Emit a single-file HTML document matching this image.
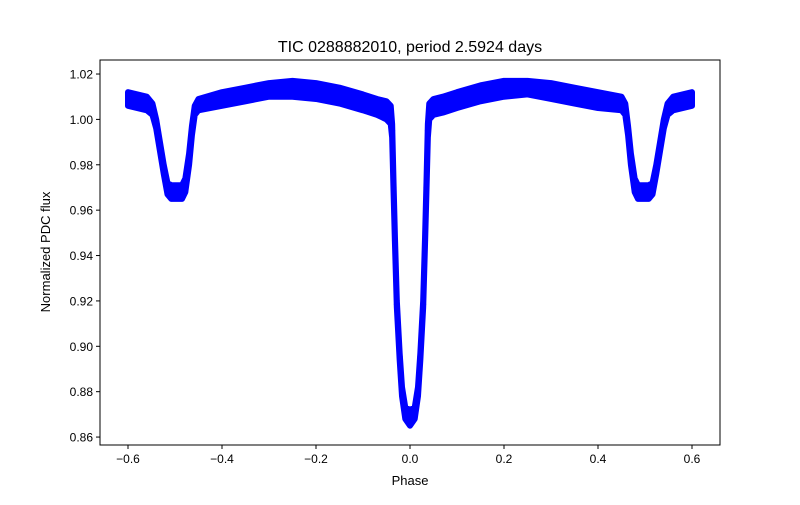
<!DOCTYPE html>
<html><head><meta charset="utf-8"><style>
body{margin:0;background:#fff}
svg{font-family:"Liberation Sans","DejaVu Sans",sans-serif}
</style></head><body>
<svg id="chart" width="800" height="500">
<rect width="800" height="500" fill="#fff"/>
<text x="410" y="52" font-size="16" text-anchor="middle">TIC 0288882010, period 2.5924 days</text>
<g id="plot"></g>
<g id="axes"></g>
<text x="410" y="485" font-size="13" text-anchor="middle">Phase</text>
<text transform="translate(50,252) rotate(-90)" font-size="13" text-anchor="middle">Normalized PDC flux</text>
</svg>
<script>
const phase = [-0.6,-0.58,-0.56,-0.548,-0.54,-0.532,-0.524,-0.516,-0.508,-0.495,-0.485,-0.478,-0.47,-0.464,-0.458,-0.45,-0.4,-0.35,-0.3,-0.25,-0.2,-0.15,-0.1,-0.07,-0.05,-0.041,-0.038,-0.035,-0.032,-0.028,-0.022,-0.017,-0.01,0,0.01,0.017,0.022,0.028,0.032,0.035,0.038,0.041,0.05,0.07,0.1,0.15,0.2,0.25,0.3,0.35,0.4,0.45,0.458,0.464,0.47,0.478,0.485,0.495,0.508,0.516,0.524,0.532,0.54,0.548,0.56,0.58,0.6];
const fluxHi = [1.012,1.011,1.010,1.007,1.000,0.990,0.980,0.972,0.971,0.971,0.971,0.974,0.985,0.997,1.006,1.009,1.012,1.014,1.016,1.017,1.016,1.014,1.011,1.009,1.008,1.006,0.998,0.972,0.948,0.920,0.897,0.882,0.873,0.872,0.873,0.882,0.897,0.920,0.948,0.972,0.998,1.007,1.009,1.010,1.012,1.015,1.017,1.017,1.016,1.014,1.012,1.010,1.007,0.997,0.985,0.974,0.971,0.971,0.971,0.972,0.980,0.990,1.000,1.007,1.010,1.011,1.012];
const fluxLo = [1.006,1.005,1.004,1.002,0.996,0.986,0.976,0.967,0.965,0.965,0.965,0.968,0.980,0.993,1.002,1.004,1.006,1.008,1.010,1.010,1.009,1.007,1.004,1.002,1.000,0.998,0.992,0.968,0.945,0.917,0.894,0.878,0.868,0.865,0.868,0.878,0.894,0.917,0.945,0.968,0.992,1.000,1.002,1.003,1.005,1.008,1.010,1.011,1.009,1.007,1.005,1.004,1.002,0.993,0.980,0.968,0.965,0.965,0.965,0.967,0.976,0.986,0.996,1.002,1.004,1.005,1.006];
const xTicks = [-0.6,-0.4,-0.2,0.0,0.2,0.4,0.6];
const xTickLabels = ["\u22120.6","\u22120.4","\u22120.2","0.0","0.2","0.4","0.6"];
const yTicks = [0.86,0.88,0.90,0.92,0.94,0.96,0.98,1.00,1.02];
const yTickLabels = ["0.86","0.88","0.90","0.92","0.94","0.96","0.98","1.00","1.02"];

const L=100,R=720,T=60,B=445;
const xs=v=>410+v*470;
const ys=v=>119.4+(1.0-v)*2269;
const NS="http://www.w3.org/2000/svg";
const plot=document.getElementById('plot'), axes=document.getElementById('axes');
function mk(tag,attrs,parent){const e=document.createElementNS(NS,tag);for(const k in attrs)e.setAttribute(k,attrs[k]);parent.appendChild(e);return e;}

let pts=[];
for(let i=0;i<phase.length;i++)pts.push(xs(phase[i])+','+ys(fluxHi[i]));
for(let i=phase.length-1;i>=0;i--)pts.push(xs(phase[i])+','+ys(fluxLo[i]));
const band=mk('polygon',{points:pts.join(' '),fill:'#0000ff',stroke:'#0000ff','stroke-width':6,'stroke-linejoin':'round'},plot);


for(let i=0;i<phase.length;i++){
  const c=mk('circle',{cx:xs(phase[i]),cy:ys((fluxHi[i]+fluxLo[i])/2),r:3,fill:'#0000ff'},plot);
  
  
}

const frame=mk('rect',{x:L,y:T,width:R-L,height:B-T,fill:'none',stroke:'#000','stroke-width':1},axes);


xTicks.forEach((v,i)=>{
  const x=xs(v);
  mk('line',{x1:x,x2:x,y1:B,y2:B+4,stroke:'#000'},axes);
  const t=mk('text',{x:x,y:B+18,'font-size':12,'text-anchor':'middle'},axes);
  t.textContent=xTickLabels[i];
  
  
});
yTicks.forEach((v,i)=>{
  const y=ys(v);
  mk('line',{x1:L-4,x2:L,y1:y,y2:y,stroke:'#000'},axes);
  const t=mk('text',{x:L-7,y:y+4.5,'font-size':12,'text-anchor':'end'},axes);
  t.textContent=yTickLabels[i];
  
  
});
</script>
</body></html>
